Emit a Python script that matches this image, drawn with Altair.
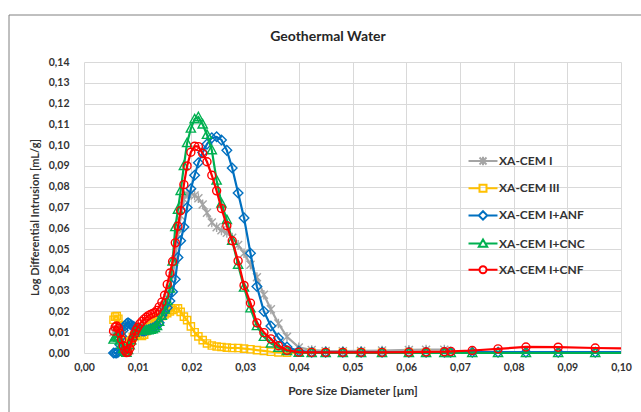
import altair as alt
import pandas as pd

# Pore size diameter [µm] of the measured points
x_um = [0.0055, 0.0058, 0.0061, 0.0064, 0.0067, 0.0070, 0.0073, 0.0076, 0.0079, 0.0082,
        0.0085, 0.0088, 0.0091, 0.0094, 0.0097, 0.0100, 0.0104, 0.0108, 0.0112, 0.0116,
        0.0120, 0.0124, 0.0128, 0.0132, 0.0136, 0.0140, 0.0145, 0.0150, 0.0155, 0.0160,
        0.0165, 0.0170, 0.0175, 0.0180, 0.0186, 0.0192, 0.0199, 0.0206, 0.0213, 0.0221,
        0.0229, 0.0238, 0.0247, 0.0256, 0.0266, 0.0276, 0.0287, 0.0298, 0.0310, 0.0322,
        0.0335, 0.0348, 0.0362, 0.0378, 0.0400, 0.0424, 0.0450, 0.0482, 0.0516, 0.0555,
        0.0605, 0.0637, 0.0671, 0.0683, 0.0723, 0.0771, 0.0823, 0.0883, 0.0952, 0.1035]

cem_i = [0.0100, 0.0110, 0.0110, 0.0100, 0.0080, 0.0052, 0.0030, 0.0012, 0.0005, 0.0018,
         0.0040, 0.0060, 0.0078, 0.0090, 0.0100, 0.0106, 0.0110, 0.0115, 0.0120, 0.0125,
         0.0130, 0.0135, 0.0140, 0.0148, 0.0158, 0.0175, 0.0200, 0.0230, 0.0265, 0.0310,
         0.0370, 0.0450, 0.0570, 0.0660, 0.0740, 0.0765, 0.0770, 0.0758, 0.0745, 0.0715,
         0.0675, 0.0628, 0.0605, 0.0590, 0.0578, 0.0555, 0.0520, 0.0480, 0.0425, 0.0365,
         0.0280, 0.0210, 0.0142, 0.0078, 0.0027, 0.0014, 0.0010, 0.0009, 0.0010, 0.0012,
         0.0015, 0.0016, 0.0016, None, None, None, None, None, None, None]

cem_iii = [0.0160, 0.0175, 0.0178, 0.0165, 0.0135, 0.0095, 0.0055, 0.0025, 0.0012, 0.0020,
           0.0040, 0.0060, 0.0075, 0.0085, 0.0090, 0.0090, 0.0085, 0.0082, 0.0088, 0.0105,
           0.0125, 0.0142, 0.0155, 0.0160, 0.0165, 0.0170, 0.0178, 0.0185, 0.0192, 0.0200,
           0.0207, 0.0215, 0.0215, 0.0198, 0.0175, 0.0158, 0.0128, 0.0100, 0.0080, 0.0062,
           0.0046, 0.0036, 0.0031, 0.0029, 0.0026, 0.0024, 0.0024, 0.0021, 0.0018, 0.0014,
           0.0010, 0.0006, 0.0003, 0.0002, 0.0001, 0.0001, 0.0001, 0.0001, 0.0001, 0.0001,
           0.0001, 0.0001, 0.0001, None, None, None, None, None, None, None]

anf = [0.0000, 0.0000, 0.0000, 0.0005, 0.0040, 0.0080, 0.0110, 0.0130, 0.0140, 0.0145,
       0.0140, 0.0135, 0.0130, 0.0125, 0.0120, 0.0115, 0.0110, 0.0106, 0.0105, 0.0108,
       0.0112, 0.0116, 0.0120, 0.0125, 0.0132, 0.0145, 0.0180, 0.0200, 0.0218, 0.0250,
       0.0295, 0.0355, 0.0460, 0.0540, 0.0606, 0.0700, 0.0790, 0.0855, 0.0915, 0.0965,
       0.1005, 0.1035, 0.1040, 0.1025, 0.0975, 0.0890, 0.0770, 0.0650, 0.0480, 0.0320,
       0.0200, 0.0130, 0.0072, 0.0029, 0.0010, 0.0004, 0.0004, 0.0004, 0.0004, 0.0004,
       0.0004, 0.0004, 0.0004, 0.0004, 0.0004, 0.0004, 0.0004, 0.0004, 0.0004, 0.0004]

cnc = [0.0065, 0.0075, 0.0080, 0.0075, 0.0060, 0.0040, 0.0020, 0.0006, 0.0002, 0.0015,
       0.0038, 0.0062, 0.0082, 0.0098, 0.0108, 0.0114, 0.0115, 0.0113, 0.0110, 0.0110,
       0.0110, 0.0112, 0.0115, 0.0120, 0.0130, 0.0150, 0.0180, 0.0210, 0.0250, 0.0310,
       0.0440, 0.0606, 0.0690, 0.0780, 0.0900, 0.1010, 0.1080, 0.1125, 0.1135, 0.1100,
       0.1050, 0.0976, 0.0830, 0.0720, 0.0640, 0.0540, 0.0425, 0.0315, 0.0215, 0.0130,
       0.0078, 0.0046, 0.0026, 0.0010, 0.0002, 0.0000, 0.0000, 0.0000, 0.0000, 0.0000,
       0.0000, 0.0000, 0.0000, 0.0000, 0.0000, 0.0000, 0.0000, 0.0000, 0.0000, 0.0000]

cnf = [0.0105, 0.0125, 0.0130, 0.0120, 0.0095, 0.0065, 0.0035, 0.0012, 0.0002, 0.0004,
       0.0022, 0.0048, 0.0072, 0.0092, 0.0110, 0.0124, 0.0140, 0.0152, 0.0163, 0.0172,
       0.0180, 0.0186, 0.0190, 0.0195, 0.0205, 0.0222, 0.0245, 0.0278, 0.0330, 0.0385,
       0.0440, 0.0530, 0.0610, 0.0685, 0.0810, 0.0900, 0.0966, 0.0995, 0.0993, 0.0960,
       0.0920, 0.0855, 0.0780, 0.0695, 0.0612, 0.0540, 0.0443, 0.0325, 0.0240, 0.0145,
       0.0098, 0.0068, 0.0035, 0.0013, 0.0004, 0.0003, 0.0003, 0.0003, 0.0003, 0.0003,
       0.0004, 0.0005, 0.0006, 0.0008, 0.0012, 0.0020, 0.0029, 0.0028, 0.0024, 0.0022]

series_names = ["XA-CEM I", "XA-CEM III", "XA-CEM I+ANF", "XA-CEM I+CNC", "XA-CEM I+CNF"]
series_values = [cem_i, cem_iii, anf, cnc, cnf]
colors = ["#A5A5A5", "#FFC000", "#0070C0", "#00B050", "#FF0000"]

chart_title = "Geothermal Water"
x_title = "Pore Size Diameter [µm]"
y_title = "Log Differential Intrusion [mL/g]"

x_ticks = [0.00, 0.01, 0.02, 0.03, 0.04, 0.05, 0.06, 0.07, 0.08, 0.09, 0.10]
y_ticks = [0.00, 0.01, 0.02, 0.03, 0.04, 0.05, 0.06, 0.07, 0.08, 0.09, 0.10,
           0.11, 0.12, 0.13, 0.14]

# marker shapes for the data points (unit square -1..1)
marker_paths = [
    "M-1,-1L1,1M-1,1L1,-1M0,-1.2V1.2",
    "M-0.9,-0.9H0.9V0.9H-0.9Z",
    "M0,-1.2L1.2,0L0,1.2L-1.2,0Z",
    "M0,-1.2L1.15,0.9H-1.15Z",
    "M1,0A1,1 0 1,1 -1,0A1,1 0 1,1 1,0Z",
]
# legend symbols: line + marker
legend_paths = [
    "M-2.07,0H2.07M-0.5,-0.5L0.5,0.5M-0.5,0.5L0.5,-0.5M0,-0.6V0.6",
    "M-2.07,0H-0.5M0.5,0H2.07M-0.5,-0.5H0.5V0.5H-0.5Z",
    "M-2.07,0H-0.6M0.6,0H2.07M0,-0.6L0.6,0L0,0.6L-0.6,0Z",
    "M-2.07,0H-0.34M0.34,0H2.07M0,-0.6L0.6,0.45H-0.6Z",
    "M-2.07,0H-0.5M0.5,0H2.07M0.5,0A0.5,0.5 0 1,1 -0.5,0A0.5,0.5 0 1,1 0.5,0Z",
]

rows = []
for name, vals in zip(series_names, series_values):
    for xv, yv in zip(x_um, vals):
        if yv is not None:
            rows.append({"series": name, "x": xv, "y": yv})
df = pd.DataFrame(rows)

FONT = "Lato"
TXT = "#333333"
label_expr = "replace(format(datum.value, '.2f'), '.', ',')"

x_axis = alt.Axis(title=x_title, values=x_ticks, labelExpr=label_expr,
                  grid=True, gridColor="#D9D9D9", gridWidth=1, domain=False, ticks=False,
                  labelPadding=9, titlePadding=13, labelFont=FONT, labelFontSize=10.5,
                  labelFontWeight="bold", labelColor=TXT, labelFlush=False, labelOverlap=False,
                  titleFont=FONT, titleFontSize=12, titleFontWeight="bold", titleColor=TXT)
y_axis = alt.Axis(title=y_title, values=y_ticks, labelExpr=label_expr,
                  grid=True, gridColor="#D9D9D9", gridWidth=1, domain=False, ticks=False,
                  labelPadding=15, titlePadding=8, titleY=155, labelFont=FONT, labelFontSize=10.5,
                  labelFontWeight="bold", labelColor=TXT, labelFlush=False, labelOverlap=False,
                  titleFont=FONT, titleFontSize=11, titleFontWeight="bold", titleColor=TXT)

x_enc = alt.X("x:Q", scale=alt.Scale(domain=[0, 0.1], nice=False, clamp=True), axis=x_axis)
y_enc = alt.Y("y:Q", scale=alt.Scale(domain=[0, 0.14], nice=False), axis=y_axis)

layers = []
for name, col, mpath in zip(series_names, colors, marker_paths):
    sub = df[df["series"] == name]
    base = alt.Chart(sub)
    layers.append(base.mark_line(color=col, strokeWidth=2.2).encode(x=x_enc, y=y_enc))
    layers.append(
        base.transform_filter("datum.x <= 0.1")
        .mark_point(shape=mpath, size=64, filled=False, color=col, strokeWidth=1.4, opacity=1)
        .encode(x=x_enc, y=y_enc)
    )

leg_df = df.groupby("series", sort=False).head(1)
legend = alt.Legend(title=None, orient="none", legendX=391, legendY=91, padding=0,
                    symbolSize=196, symbolStrokeWidth=2, labelFont=FONT, labelFontSize=12,
                    labelFontWeight="bold", labelColor=TXT, labelOffset=8, rowPadding=10.2)
legend_layer = alt.Chart(leg_df).mark_point(opacity=0, filled=False, strokeWidth=2).encode(
    x=x_enc, y=y_enc,
    color=alt.Color("series:N", scale=alt.Scale(domain=series_names, range=colors), legend=legend),
    shape=alt.Shape("series:N", scale=alt.Scale(domain=series_names, range=legend_paths), legend=legend),
)

frame_df = pd.DataFrame({"k": [0]})
frame_top = alt.Chart(frame_df).mark_rule(color="#808080", strokeWidth=1).encode(
    x=alt.value(-75), x2=alt.value(700), y=alt.value(-47))
frame_left = alt.Chart(frame_df).mark_rule(color="#808080", strokeWidth=1).encode(
    x=alt.value(-75), y=alt.value(-47), y2=alt.value(400))
title_mark = alt.Chart(pd.DataFrame({"t": [chart_title]})).mark_text(
    font=FONT, fontSize=14, fontWeight="bold", color="#262626", align="center", baseline="middle"
).encode(text="t:N", x=alt.value(244), y=alt.value(-25))

chart = alt.layer(*layers, legend_layer, frame_top, frame_left, title_mark).properties(
    width=537, height=291,
    autosize=alt.AutoSizeParams(type="none"),
    padding={"left": 84, "top": 62, "right": 20, "bottom": 59},
    background="white",
).configure_view(stroke=None)

chart.save("out.html", embed_options={"renderer": "svg", "actions": False})
